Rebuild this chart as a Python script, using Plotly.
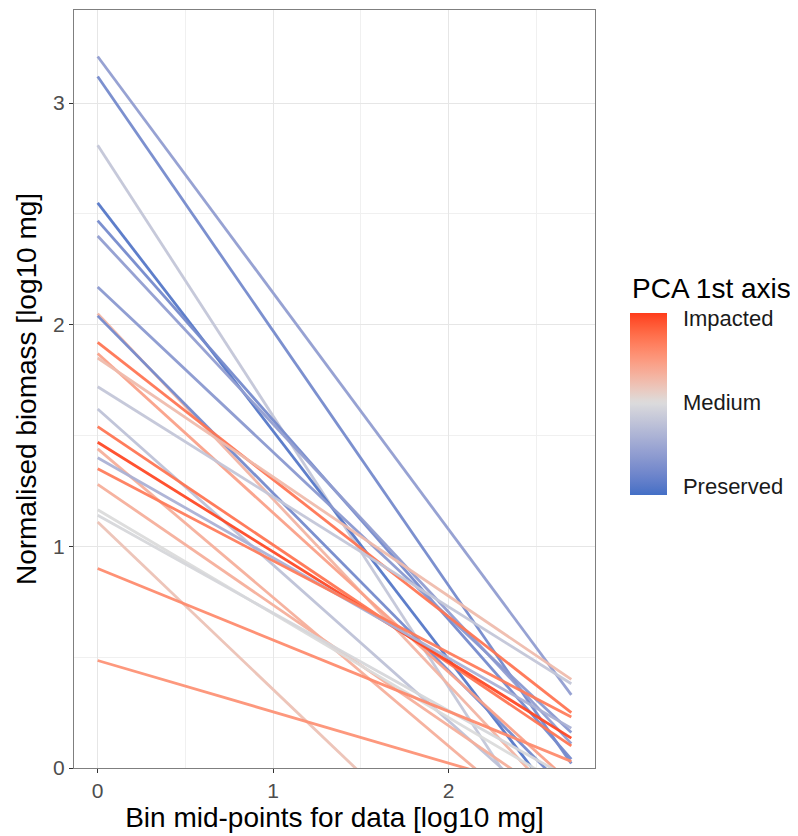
import plotly.graph_objects as go
import numpy as np

# ---- data ----
x_bins = [0.0, 2.7]  # bin mid-point range [log10 mg]
y_start = [3.21, 3.12, 2.81, 2.55, 2.47, 2.40, 2.17, 2.05, 2.04, 1.92,
           1.87, 1.85, 1.72, 1.62, 1.54, 1.47, 1.44, 1.40, 1.35, 1.28,
           1.165, 1.14, 1.11, 0.90, 0.485]
y_end = [0.33, 0.02, -0.49, -0.23, 0.04, 0.11, 0.16, -0.21, -0.12, 0.25,
         -0.07, 0.40, 0.38, -0.28, 0.10, 0.135, -0.37, 0.18, 0.23, -0.19,
         -0.10, -0.05, -0.93, 0.03, -0.14]
pca_score = [-0.6, -0.8, -0.2, -1.0, -0.8, -0.6, -0.65, 0.3, -0.8, 0.75,
             0.45, 0.25, -0.2, -0.25, 0.75, 1.0, 0.35, -0.4, 0.7, 0.35,
             0.0, -0.05, 0.2, 0.6, 0.55]
cbar_ticks = [1.0, 0.0, -1.0]
cbar_labels = ["Impacted", "Medium", "Preserved"]

LOW, MID, HIGH = "#436FC6", "#DCDCDC", "#FF3010"
CMIN, CMAX = -1.1, 1.06
FONT = "Liberation Sans"


# ---- Lab interpolation (like ggplot's gradient2) ----
def hex2rgb(h):
    h = h.lstrip("#")
    return np.array([int(h[i:i + 2], 16) / 255 for i in (0, 2, 4)])


def rgb2lab(c):
    c = np.where(c > 0.04045, ((c + 0.055) / 1.055) ** 2.4, c / 12.92)
    M = np.array([[0.4124, 0.3576, 0.1805], [0.2126, 0.7152, 0.0722], [0.0193, 0.1192, 0.9505]])
    xyz = M @ c / np.array([0.95047, 1.0, 1.08883])
    f = np.where(xyz > 0.008856, np.cbrt(xyz), 7.787 * xyz + 16 / 116)
    return np.array([116 * f[1] - 16, 500 * (f[0] - f[1]), 200 * (f[1] - f[2])])


def lab2hex(lab):
    L, a, b = lab
    fy = (L + 16) / 116
    fx = fy + a / 500
    fz = fy - b / 200
    f = np.array([fx, fy, fz])
    xyz = np.where(f ** 3 > 0.008856, f ** 3, (f - 16 / 116) / 7.787) * np.array([0.95047, 1.0, 1.08883])
    Minv = np.array([[3.2406, -1.5372, -0.4986], [-0.9689, 1.8758, 0.0415], [0.0557, -0.2040, 1.0570]])
    c = Minv @ xyz
    c = np.where(c > 0.0031308, 1.055 * np.clip(c, 0, None) ** (1 / 2.4) - 0.055, 12.92 * c)
    c = np.clip(c, 0, 1)
    return "#%02x%02x%02x" % tuple(int(round(v * 255)) for v in c)


LAB_LOW, LAB_MID, LAB_HIGH = rgb2lab(hex2rgb(LOW)), rgb2lab(hex2rgb(MID)), rgb2lab(hex2rgb(HIGH))
MAXABS = max(abs(CMIN), abs(CMAX))


def color_of(v):
    t = 0.5 + v / (2 * MAXABS)
    if t <= 0.5:
        u = t / 0.5
        lab = LAB_LOW + (LAB_MID - LAB_LOW) * u
    else:
        u = (t - 0.5) / 0.5
        lab = LAB_MID + (LAB_HIGH - LAB_MID) * u
    return lab2hex(lab)


colorscale = []
for i in range(41):
    s = i / 40
    v = CMIN + s * (CMAX - CMIN)
    colorscale.append([s, color_of(v)])

fig = go.Figure()
for y0, y1, sc in zip(y_start, y_end, pca_score):
    fig.add_trace(go.Scatter(
        x=x_bins, y=[y0, y1], mode="lines",
        line=dict(color=color_of(sc), width=2.8),
        opacity=0.95, showlegend=False, hoverinfo="skip"))

# colour bar carrier
fig.add_trace(go.Scatter(
    x=[0], y=[-5], mode="markers", showlegend=False, hoverinfo="skip",
    marker=dict(color=[0], colorscale=colorscale, cmin=CMIN, cmax=CMAX, size=1, opacity=0,
                showscale=True,
                colorbar=dict(
                    tickvals=cbar_ticks, ticktext=cbar_labels,
                    tickfont=dict(size=22, color="#1a1a1a", family=FONT),
                    ticks="outside", ticklen=12, tickcolor="rgba(0,0,0,0)",
                    thickness=37, thicknessmode="pixels",
                    len=182, lenmode="pixels",
                    x=1.067, xanchor="left", y=0.480, yanchor="middle",
                    outlinewidth=0, ypad=0, xpad=0))))

fig.add_annotation(text="PCA 1st axis", xref="paper", yref="paper",
                   x=1.067, y=0.632, xanchor="left", yanchor="middle", showarrow=False,
                   font=dict(size=28, color="#000000", family=FONT))

axis_common = dict(
    showgrid=True, gridcolor="#e6e6e6", gridwidth=1.3,
    zeroline=False, showline=True, linecolor="#7f7f7f", linewidth=1.2, mirror=True,
    ticks="outside", ticklen=4, tickwidth=1.2, tickcolor="#333333",
    tickfont=dict(size=21, color="#4d4d4d", family=FONT),
    minor=dict(dtick=0.5, tick0=0, showgrid=True, gridcolor="#f0f0f0", gridwidth=1.0, ticks=""),
)

fig.update_layout(
    width=798, height=836,
    margin=dict(l=66, r=211, t=2, b=76),
    plot_bgcolor="white", paper_bgcolor="white",
    font=dict(family=FONT),
    xaxis=dict(range=[-0.135, 2.835], dtick=1, tick0=0,
               title=dict(text="Bin mid-points for data [log10 mg]",
                          font=dict(size=28, color="#000000"), standoff=6),
               **axis_common),
    yaxis=dict(range=[0, 3.42], dtick=1, tick0=0,
               title=dict(text="Normalised biomass [log10 mg]",
                          font=dict(size=28, color="#000000"), standoff=8),
               **axis_common),
)

fig.write_html("out.html")
